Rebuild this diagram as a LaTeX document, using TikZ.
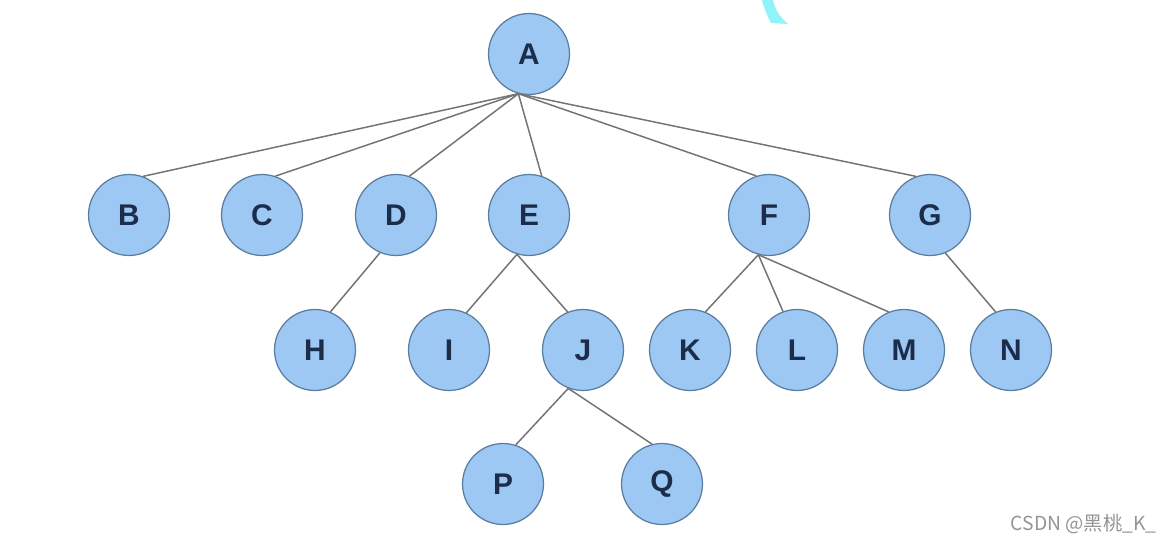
\documentclass[tikz,border=0pt]{standalone}
\usepackage{fontspec}
\setmainfont{Liberation Sans}
\newfontfamily\cjk{Noto Sans CJK SC}
\usepackage{xcolor}
\definecolor{nodefill}{HTML}{9DC8F3}
\definecolor{nodeline}{HTML}{5A7C9E}
\definecolor{nodetext}{HTML}{1B2D4A}
\definecolor{edgegray}{HTML}{747474}
\definecolor{markcyan}{HTML}{8FF3F8}
\tikzset{
  vert/.style={circle, minimum size=1.62cm, inner sep=0pt, fill=nodefill, draw=nodeline,
    line width=0.7pt, text=nodetext, font=\fontsize{17}{20}\selectfont\bfseries},
  branch/.style={line width=0.85pt, draw=edgegray},
  wmark/.style={font=\cjk\fontsize{11}{13}\selectfont, text=black!42, inner sep=0pt},
}

\begin{document}
\begin{tikzpicture}[x=0.02cm, y=-0.02cm]  % 1 unit = 1 px of the reference
  \useasboundingbox (0,0) rectangle (1172,544);
  % root
  \node[vert] (A) at (529,54) {A};
  % second level
  \node[vert] (B) at (129,215) {B};
  \node[vert] (C) at (262,215) {C};
  \node[vert] (D) at (396,215) {D};
  \node[vert] (E) at (529,215) {E};
  \node[vert] (F) at (769,215) {F};
  \node[vert] (G) at (930,215) {G};
  % third level
  \node[vert] (H) at (315,350) {H};
  \node[vert] (I) at (449,350) {I};
  \node[vert] (J) at (583,350) {J};
  \node[vert] (K) at (690,350) {K};
  \node[vert] (L) at (797,350) {L};
  \node[vert] (M) at (904,350) {M};
  \node[vert] (N) at (1011,350) {N};
  % fourth level
  \node[vert] (P) at (503,484) {P};
  \node[vert] (Q) at (662,484) {Q};
  % branches
  \draw[branch] (A.-105) -- (B.70);
  \draw[branch] (A.-105) -- (C.71);
  \draw[branch] (A.-105) -- (D.71);
  \draw[branch] (A.-105) -- (E.72);
  \draw[branch] (A.-105) -- (F.108);
  \draw[branch] (A.-105) -- (G.110);
  \draw[branch] (D.-113) -- (H.68);
  \draw[branch] (E.-107) -- (I.65);
  \draw[branch] (E.-107) -- (J.112);
  \foreach \c/\a in {K/68, L/110, M/112}
    \draw[branch] (F.-105) -- (\c.\a);
  \draw[branch] (G.-68) -- (N.112);
  \draw[branch] (J.-111) -- (P.72);
  \draw[branch] (J.-111) -- (Q.104);
  % stray pen stroke at the top
  \fill[markcyan] (762,0) -- (773,0) .. controls (775,10) and (780,17) .. (788,24)
    -- (771,23) .. controls (767,15) and (764,8) .. (762,0) -- cycle;
  % watermark
  \node[wmark, anchor=east] (wm) at (1157,524) {CSDN @黑桃\_K\_};
\end{tikzpicture}
\end{document}
